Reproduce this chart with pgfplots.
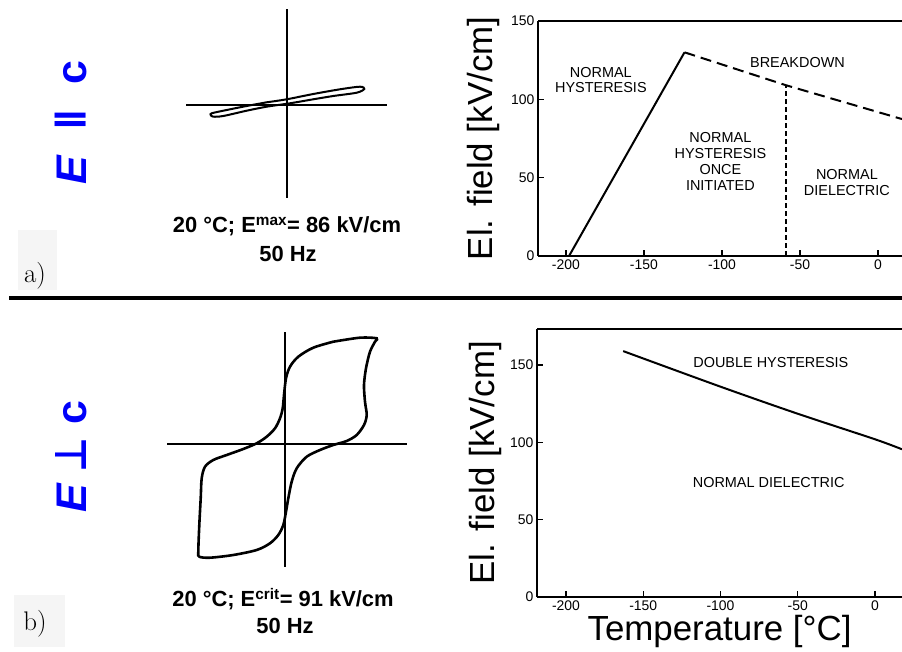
\documentclass[border=0pt]{standalone}
\usepackage{fontspec}
\usepackage{pgfplots}
\pgfplotsset{compat=1.18}
\newfontfamily\arial{Liberation Sans}
\newfontfamily\dejavu{DejaVu Sans}
\definecolor{eblue}{RGB}{0,0,250}
\definecolor{boxgray}{RGB}{245,245,245}
\newcommand{\reg}{\arial\fontsize{14.5}{16}\selectfont}
\newcommand{\bold}{\arial\bfseries\fontsize{22}{24}\selectfont}
\newsavebox\symbox
\newcommand{\fitsym}[3]{\sbox\symbox{\dejavu\bfseries #3}\resizebox*{#1}{#2}{\raisebox{\dp\symbox}{\usebox\symbox}}}
\pgfplotsset{
  phase/.style={
    scale only axis,
    axis x line=box, axis y line=left,
    axis line style={-, line width=1.5bp},
    xtick pos=bottom, ytick pos=left,
    tick align=inside, major tick length=6bp,
    every tick/.style={black, line width=1.2bp},
    xtick={-200,-150,-100,-50,0},
    ytick={0,50,100,150},
    ymin=0,
    ticklabel style={font=\arial\fontsize{14}{14}\selectfont},
    /pgf/number format/assume math mode=true,
    label style={font=\arial\fontsize{35}{40}\selectfont},
    clip=false,
  },
  loop/.style={scale only axis, hide axis, clip=false},
}
\begin{document}
\begin{tikzpicture}
\path[use as bounding box] (0,0) rectangle (902bp,652bp);
% panel letters with light boxes
\fill[boxgray] (18bp,362bp) rectangle (57bp,422bp);
\fill[boxgray] (14bp,5bp) rectangle (65bp,57bp);
\node[anchor=base, inner sep=0pt, font=\fontsize{27}{27}\selectfont] at (35bp,369bp) {a)};
\node[anchor=base, inner sep=0pt, font=\fontsize{27}{27}\selectfont] at (35bp,22bp) {b)};
% separator
\draw[line width=3.5bp] (9bp,354bp) -- (902bp,354bp);
% blue labels
\node[rotate=90, anchor=base, text=eblue, inner sep=0pt, font=\arial\bfseries\fontsize{43}{43}\selectfont]
  at (86bp,528bp) {\makebox[29bp]{\itshape E}\hspace{26bp}\makebox[18bp]{\fitsym{22bp}{31bp}{∥}}\hspace{30bp}\makebox[19bp]{c}};
\node[rotate=90, anchor=base, text=eblue, inner sep=0pt, font=\arial\bfseries\fontsize{43}{43}\selectfont]
  at (86bp,194bp) {\makebox[30bp]{\itshape E}\hspace{11bp}\makebox[33bp]{\fitsym{35bp}{31bp}{⊥}}\hspace{16bp}\makebox[20bp]{c}};
% captions
\node[anchor=base, inner sep=0pt, font=\bold] at (287bp,419bp) {20 °C; E\textsuperscript{max}= 86 kV/cm};
\node[anchor=base, inner sep=0pt, font=\bold] at (288bp,390bp) {50 Hz};
\node[anchor=base, inner sep=0pt, font=\bold] at (283bp,45bp) {20 °C; E\textsuperscript{crit}= 91 kV/cm};
\node[anchor=base, inner sep=0pt, font=\bold] at (285bp,19bp) {50 Hz};

% top hysteresis loop
\begin{axis}[loop, at={(186bp,454bp)}, anchor=south west, width=201bp, height=189bp,
  xmin=-101, xmax=100, ymin=-93, ymax=96]
\addplot[black, line width=2.2bp] coordinates {(-101,0) (100,0)};
\addplot[black, line width=2.2bp] coordinates {(0,-93) (0,96)};
\addplot[black, line width=2bp, smooth, tension=0.5] coordinates {
 (-20.3,2.7) (-0.3,5.7) (26.3,11) (53,15.7) (73,18.3) (77.3,16) (69.7,12.3)
 (46.3,9) (26.3,5.7) (3,1.7) (-20.3,-1.7) (-40.3,-5.7) (-63.7,-11) (-73.7,-11.7)
 (-76.3,-10) (-75.3,-8.3) (-63.7,-5.7) (-40.3,-1) (-20.3,2.7)};
\end{axis}

% bottom double hysteresis loop
\begin{axis}[loop, at={(167bp,85bp)}, anchor=south west, width=240bp, height=235bp,
  xmin=-118, xmax=122, ymin=-123, ymax=112]
\addplot[black, line width=2.2bp] coordinates {(-118,0) (122,0)};
\addplot[black, line width=2.2bp] coordinates {(0,-123) (0,112)};
\addplot[black, line width=2.6bp, smooth, tension=0.5] coordinates {
 (48.3,102.3) (28.3,96.3) (13.3,87.3) (5,77.3) (1,65.7) (-1,49) (-2.3,35.7)
 (-5,25.7) (-10,15.7) (-18.3,7.3) (-28.3,0.7) (-41.7,-5) (-58.3,-11) (-71.7,-16)
 (-80,-22.7) (-83.3,-34.3) (-84.3,-54.3) (-85.7,-81) (-86.7,-107.7) (-85.7,-112.7)
 (-75,-113.7) (-51.7,-111) (-28.3,-106) (-15,-99.3) (-6.7,-91) (-1.7,-81) (1,-67.7)
 (3.3,-54.3) (6.7,-37.7) (11.7,-24.3) (21.7,-12.7) (35,-6) (48.3,-1) (61.7,3)
 (71.7,9) (79,19) (81.7,29) (80,42.3) (79,59) (81,75.7) (85,92.3) (90,102.3)
 (91.7,105.7) (75,106.3) (48.3,102.3)};
\end{axis}

% top phase diagram
\begin{axis}[phase, at={(538bp,396bp)}, anchor=south west, width=364bp, height=235bp,
  xmin=-217.9, xmax=15.4, ymax=150,
  ylabel={El. field [kV/cm]},
  ylabel style={at={(axis description cs:-0.151,0.5)}, anchor=center}]
\addplot[black, line width=2bp] coordinates {(-198,0) (-124,130)};
\addplot[black, line width=2bp, dash pattern=on 11bp off 6bp] coordinates {(-124,130) (-59,109) (15.4,87.4)};
\addplot[black, line width=1.5bp, dash pattern=on 5bp off 3bp] coordinates {(-59,0) (-59,109)};
\node[align=center, font=\reg] at (axis cs:-177.6,112.3) {NORMAL\\HYSTERESIS};
\node[align=center, font=\reg] at (axis cs:-51.6,123.8) {BREAKDOWN};
\node[align=center, font=\reg] at (axis cs:-101,60.3) {NORMAL\\HYSTERESIS\\ONCE\\INITIATED};
\node[align=center, font=\reg] at (axis cs:-19.9,46.9) {NORMAL\\DIELECTRIC};
\end{axis}

% bottom phase diagram
\begin{axis}[phase, at={(537bp,55bp)}, anchor=south west, width=365bp, height=268bp,
  xmin=-218.8, xmax=17.5, ymax=173.3,
  ylabel={El. field [kV/cm]},
  ylabel style={at={(axis description cs:-0.14,0.5)}, anchor=center},
  xlabel={Temperature [°C]},
  xlabel style={at={(axis description cs:0.5,-0.13)}, anchor=center}]
\addplot[black, line width=2bp, smooth] coordinates {(-163,159) (-100,136) (-50,118.5) (0,102) (17.5,95.5)};
\node[font=\reg] at (axis cs:-67.4,151.9) {DOUBLE HYSTERESIS};
\node[font=\reg] at (axis cs:-68.8,74.3) {NORMAL DIELECTRIC};
\end{axis}
\end{tikzpicture}
\end{document}
